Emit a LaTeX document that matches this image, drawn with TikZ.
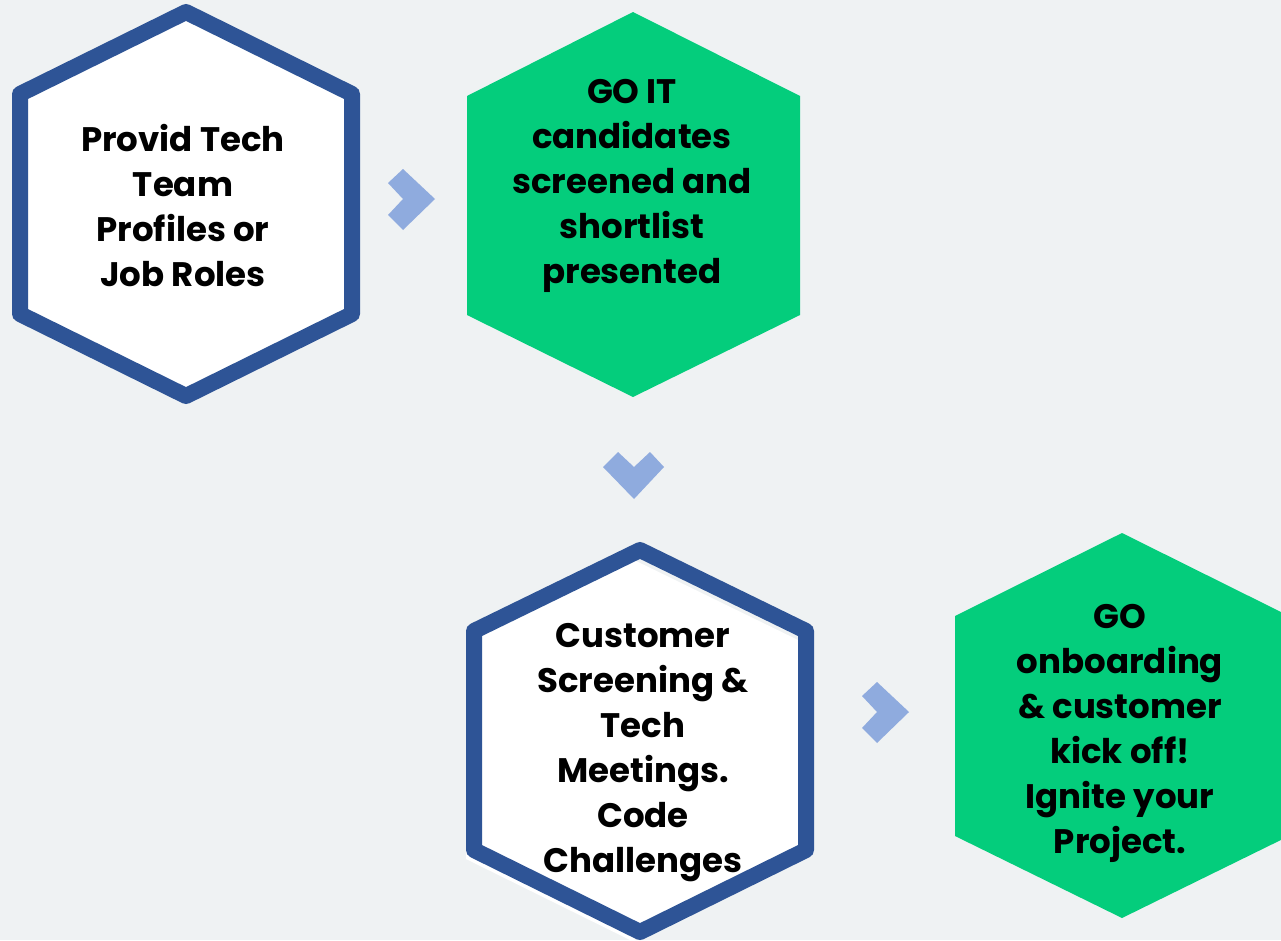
\documentclass[tikz,border=0pt]{standalone}
\usepackage{fontspec}
\setmainfont{Poppins}
\definecolor{bggray}{HTML}{EFF2F3}
\definecolor{hexblue}{HTML}{2E5496}
\definecolor{gogreen}{HTML}{04CD7C}
\definecolor{chevblue}{HTML}{8FABDE}
\tikzset{
  hexborder/.style={draw=hexblue, line width=16pt, line join=round},
  hexgreen/.style={fill=gogreen},
  steptext/.style={font=\fontsize{34}{45}\selectfont\bfseries, align=center, inner sep=0pt},
  chevron/.pic={\fill[chevblue] (24,0) -- (-8,-30) -- (-23,-16) -- (-8,0) -- (-23,16) -- (-8,31) -- cycle;}
}
\begin{document}
\begin{tikzpicture}[x=1pt,y=-1pt]
  \fill[bggray] (0,0) rectangle (1281,940);
  \useasboundingbox (0,0) rectangle (1281,940);

  % step 1
  \draw[hexborder, fill=white] (186,12) -- (352,94) -- (352,314) -- (186,396) -- (20,314) -- (20,94) -- cycle;
  \node[steptext] (provide) at (183,206) {Provid Tech\\Team\\Profiles or\\Job Roles};

  % step 2
  \fill[hexgreen] (633,12) -- (800,96) -- (800,315) -- (633,397) -- (467,315) -- (467,96) -- cycle;
  \node[steptext] (shortlist) at (632,186) {GO IT\\candidates\\screened and\\shortlist\\presented};

  % step 3
  \fill[white] (632,559) -- (798,640) -- (798,859) -- (632,941) -- (466,859) -- (466,640) -- cycle;
  \draw[hexborder] (640,550) -- (806,631) -- (806,850) -- (640,932) -- (474,850) -- (474,631) -- cycle;
  \node[steptext] (meetings) at (643,753) {Customer\\Screening \&\\Tech\\Meetings.\\Code\\Challenges};

  % step 4
  \fill[hexgreen] (1122,533) -- (1289,616) -- (1289,836) -- (1122,918) -- (955,836) -- (955,616) -- cycle;
  \node[steptext] (kickoff) at (1120,733) {GO\\onboarding\\\& customer\\kick off!\\Ignite your\\Project.};

  % chevrons
  \pic at (411,199) {chevron};
  \pic[rotate=-90] at (634,475) {chevron};
  \pic at (885,712) {chevron};
\end{tikzpicture}
\end{document}
